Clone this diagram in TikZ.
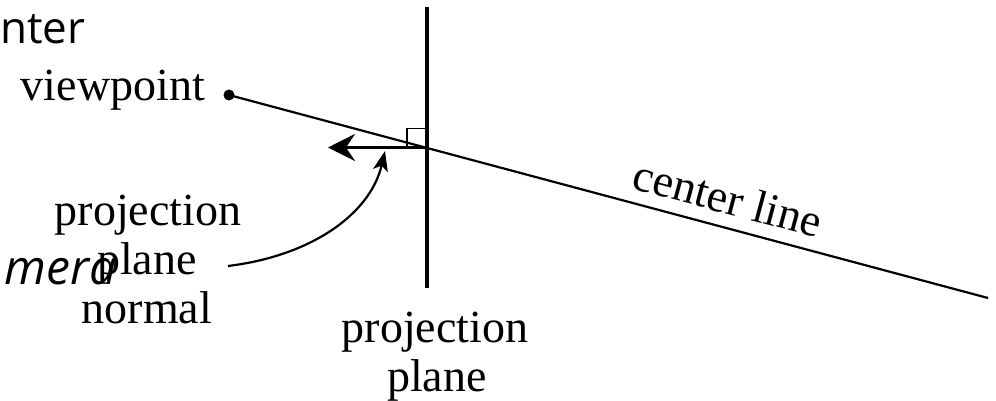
\documentclass[tikz,border=0pt]{standalone}
\usepackage{fontspec}
\setmainfont{Liberation Serif}
\newfontfamily\slidefont{Open Sans}
\usetikzlibrary{arrows.meta}
\begin{document}
\begin{tikzpicture}[x=1pt,y=-1pt,
  lbl/.style={inner sep=0pt,anchor=base,font=\fontsize{46}{49}\selectfont},
  thinline/.style={line width=2.2pt},
  planeline/.style={line width=4pt},
  normalarrow/.style={line width=3.5pt,-{Stealth[length=27pt,width=27pt,inset=9pt]}},
  curvearrow/.style={line width=2.2pt,-{Stealth[length=20pt,width=15pt,inset=5pt]}},
  dot/.style={circle,fill=black,inner sep=0pt,minimum size=11pt}]
\useasboundingbox (0,0) rectangle (996,400);
% slide fragments
\node[inner sep=0pt,anchor=base west,font=\slidefont\fontsize{44}{46}\selectfont] (nter) at (0,43) {nter};
% geometry
\node[dot] (vp) at (229,95) {};
\coordinate (cend) at (988,298);
\coordinate (ptop) at (427,7);
\coordinate (pbot) at (427,288);
\coordinate (o) at (427,147.5);
\coordinate (ntip) at (328,147.5);
\coordinate (cstart) at (228,266);
\coordinate (ctip) at (385,151);
\draw[thinline] (vp.center) -- (cend);
\draw[planeline] (ptop) -- (pbot);
\draw[normalarrow] (o) -- (ntip);
\draw[line width=1.6pt] (407,147) -- (407,128.5) -- (426,128.5);
\draw[curvearrow] (cstart) .. controls (310,256) and (370,215) .. (ctip);
% labels
\node[lbl,anchor=base east] (vplbl) at (205,100) {viewpoint};
\node[lbl] (pn1) at (148,225) {projection};
\node[lbl] (pn2) at (147,274) {plane};
\node[lbl] (pn3) at (147,323) {normal};
\node[lbl] (pp1) at (435,342) {projection};
\node[lbl] (pp2) at (437,391) {plane};
\node[inner sep=0pt,rotate=-15,font=\fontsize{46}{49}\selectfont] (cl) at (728,198) {center line};
\node[inner sep=0pt,anchor=base east,font=\slidefont\itshape\fontsize{48}{50}\selectfont] (mera) at (117,284) {mera};
\end{tikzpicture}
\end{document}
